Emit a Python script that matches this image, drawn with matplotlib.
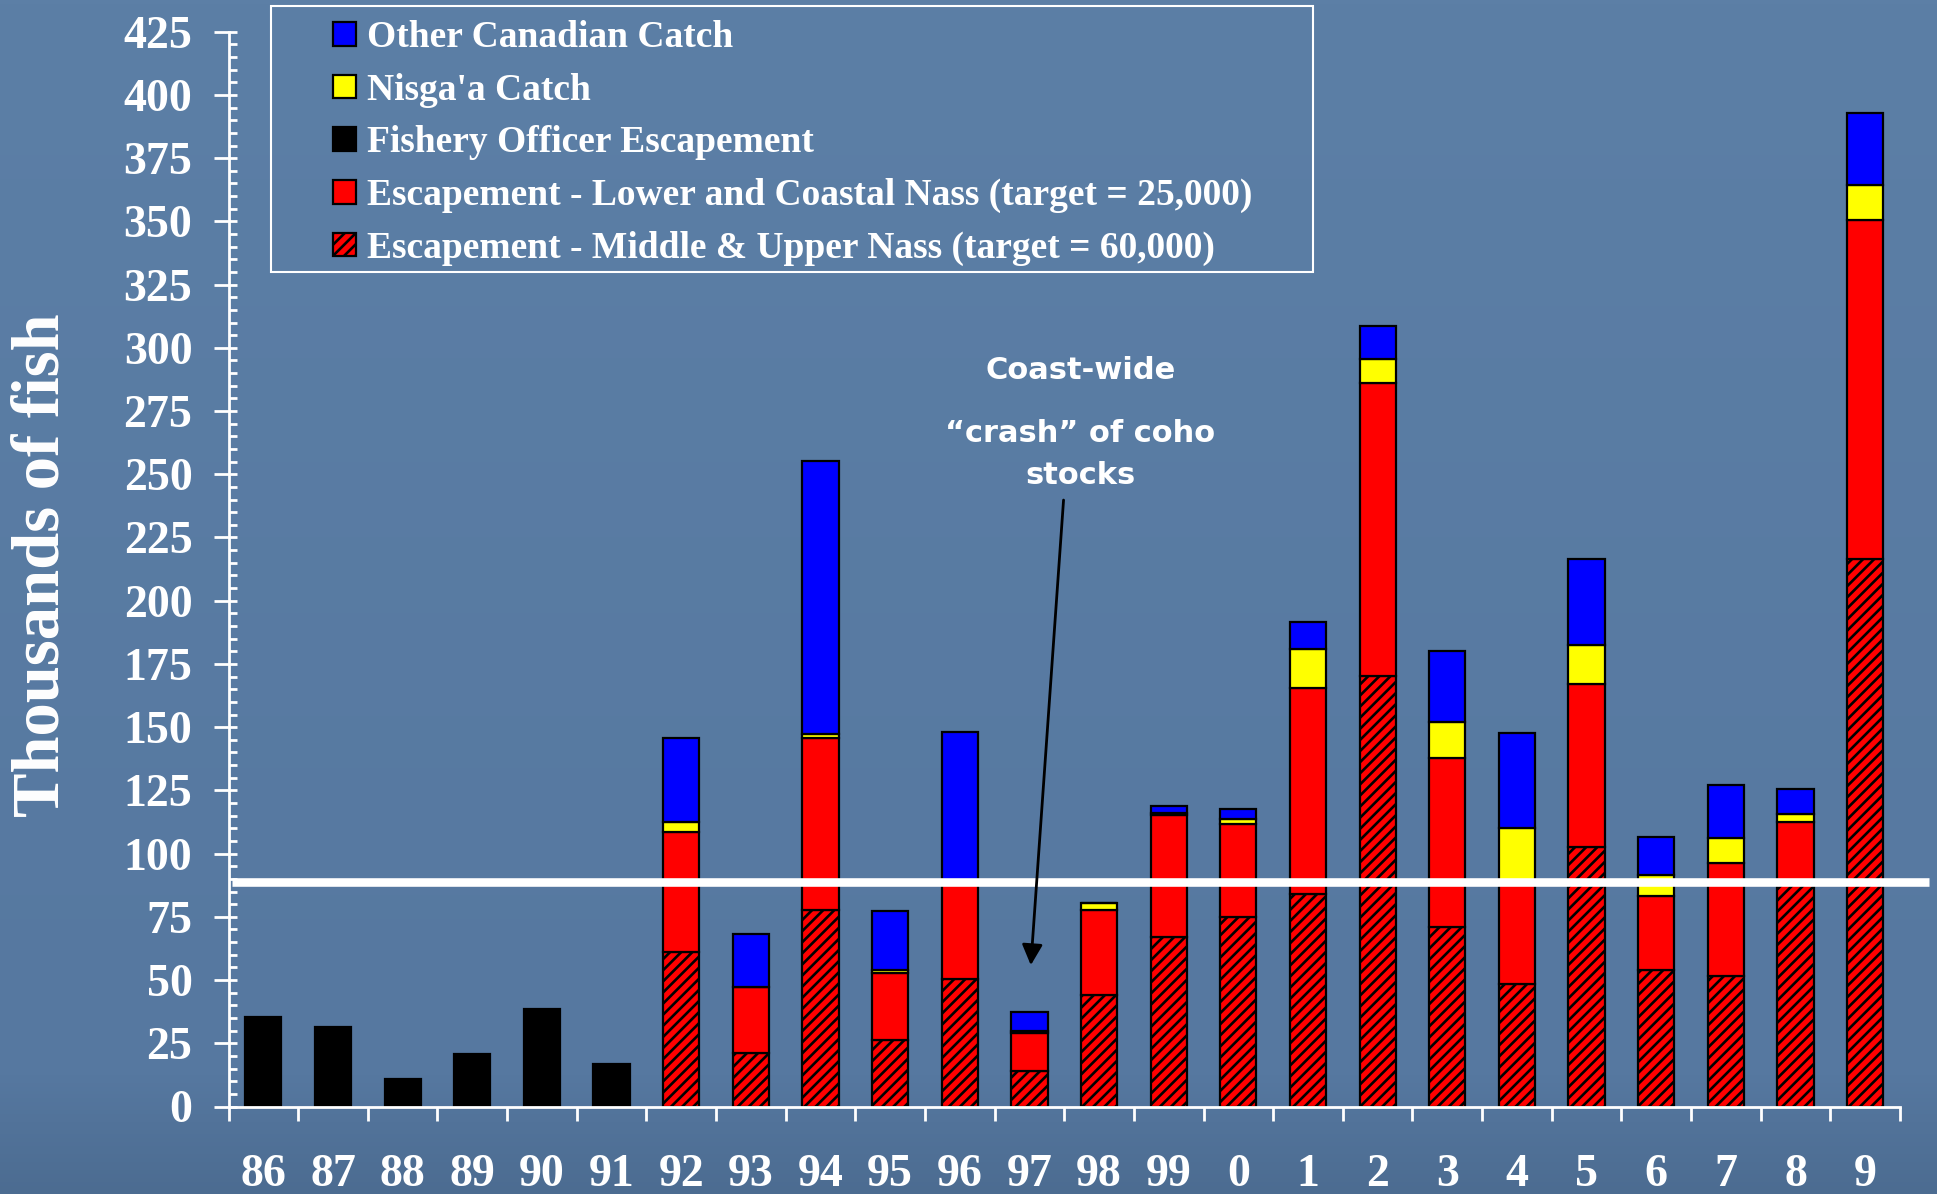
import numpy as np
import matplotlib
matplotlib.use("Agg")
import matplotlib.pyplot as plt
from matplotlib.patches import Patch, Rectangle
from matplotlib.ticker import MultipleLocator, FixedLocator

# ── data (thousands of fish) ──────────────────────────────────────────
years = ["86", "87", "88", "89", "90", "91", "92", "93", "94", "95", "96", "97",
         "98", "99", "0", "1", "2", "3", "4", "5", "6", "7", "8", "9"]

fishery_officer = [35.3, 31.4, 10.8, 20.6, 38.4, 16.8]          # 86-91
# 92 .. 9 (18 years)
middle_upper = [61.0, 21.3, 77.7, 26.3, 50.4, 14.2, 44.1, 67.1, 75.0,
                84.0, 170.1, 70.9, 48.4, 102.5, 54.0, 51.8, 89.0, 216.3]
lower_coastal = [47.7, 26.1, 68.0, 26.4, 39.0, 15.0, 33.6, 48.2, 36.7,
                 81.6, 116.1, 67.0, 40.6, 64.7, 29.3, 44.6, 23.6, 134.3]
nisgaa = [3.8, 0.0, 1.7, 1.3, 0.0, 0.8, 2.9, 0.8, 1.9,
          15.3, 9.2, 14.2, 21.1, 15.3, 8.4, 9.9, 2.9, 13.7]
other_canadian = [33.2, 20.7, 107.9, 23.3, 58.6, 7.2, 0.0, 2.7, 3.9,
                  10.6, 13.3, 27.9, 37.5, 33.8, 14.9, 21.0, 10.2, 28.4]

target_line = 88.6

legend_labels = [
    "Other Canadian Catch",
    "Nisga'a Catch",
    "Fishery Officer Escapement",
    "Escapement - Lower and Coastal Nass (target = 25,000)",
    "Escapement - Middle & Upper Nass (target = 60,000)",
]

# ── style ─────────────────────────────────────────────────────────────
SERIF = "Liberation Serif"
BLUE, YELLOW, RED = "#0000ff", "#ffff00", "#ff0000"
plt.rcParams["hatch.linewidth"] = 1.9
plt.rcParams["hatch.color"] = "black"

W, H = 1937, 1194
fig = plt.figure(figsize=(W / 100, H / 100), dpi=100)

# background gradient
bg = fig.add_axes([0, 0, 1, 1], zorder=-10)
top = np.array([92, 127, 166]) / 255
mid = np.array([86, 120, 160]) / 255
bot = np.array([76, 108, 145]) / 255
t = np.linspace(0, 1, 300)[:, None]
grad = np.where(t < 0.9, top + (mid - top) * (t / 0.9), mid + (bot - mid) * ((t - 0.9) / 0.1))
bg.imshow(grad[:, None, :], aspect="auto", extent=[0, 1, 0, 1])
bg.axis("off")

ax = fig.add_axes([228.5 / W, 87.5 / H, (1900 - 228.5) / W, (1106.5 - 31.7) / H])
ax.set_facecolor("none")

x = np.arange(len(years))
xf = x[:len(fishery_officer)]
xs = x[len(fishery_officer):]
bw = 0.52
edge = dict(edgecolor="black", linewidth=1.6)

ax.bar(xf, fishery_officer, bw, color="black", **edge)

mu = np.array(middle_upper)
lc = np.array(lower_coastal)
ni = np.array(nisgaa)
oc = np.array(other_canadian)
ax.bar(xs, mu, bw, color=RED, hatch="///", **edge)
ax.bar(xs, lc, bw, bottom=mu, color=RED, **edge)
ax.bar(xs, ni, bw, bottom=mu + lc, color=YELLOW, **edge)
ax.bar(xs, oc, bw, bottom=mu + lc + ni, color=BLUE, **edge)

# target line
ax.plot([-0.45, 23.92], [target_line, target_line], color="white", lw=6.2,
        solid_capstyle="butt", clip_on=False, zorder=5)

# axes
ax.set_xlim(-0.5, 23.5)
ax.set_ylim(0, 425)
for s in ["top", "right"]:
    ax.spines[s].set_visible(False)
for s in ["left", "bottom"]:
    ax.spines[s].set_color("white")
    ax.spines[s].set_linewidth(2)

ax.yaxis.set_major_locator(MultipleLocator(25))
ax.yaxis.set_minor_locator(MultipleLocator(5))
ax.yaxis.remove_overlapping_locs = False
ax.tick_params(axis="y", which="major", direction="out", length=11, width=2,
               color="white", pad=15, labelcolor="white", labelsize=33)
ax.tick_params(axis="y", which="minor", direction="in", length=6, width=2, color="white")

ax.set_xticks(x)
ax.set_xticklabels(years)
ax.xaxis.set_minor_locator(FixedLocator(np.arange(-0.5, 24, 1)))
ax.tick_params(axis="x", which="major", length=0, pad=34, labelcolor="white", labelsize=33)
ax.tick_params(axis="x", which="minor", direction="out", length=10, width=2, color="white")
for lbl in ax.get_xticklabels() + ax.get_yticklabels():
    lbl.set_fontfamily(SERIF)
    lbl.set_fontweight("bold")

fig.text(42 / W, 1 - 565 / H, "Thousands of fish", rotation=90, ha="center", va="center",
         color="white", fontsize=48, fontweight="bold", family=SERIF)

# annotation
note = dict(ha="center", va="center", color="white", fontsize=22, fontweight="bold",
            family="DejaVu Sans", zorder=6)
ax.text(11.73, 291.0, "Coast-wide", **note)
ax.text(11.73, 266.0, "\u201ccrash\u201d of coho", **note)
ax.text(11.73, 249.5, "stocks", **note)
ax.annotate("", xy=(11.02, 55.9), xytext=(11.49, 239.8),
            arrowprops=dict(arrowstyle="-|>,head_length=1.0,head_width=0.5",
                            mutation_scale=12.5, color="black", lw=2,
                            shrinkA=0, shrinkB=0), zorder=7)

# legend
handles = [
    Patch(facecolor=BLUE, **edge),
    Patch(facecolor=YELLOW, **edge),
    Patch(facecolor="black", **edge),
    Patch(facecolor=RED, **edge),
    Patch(facecolor=RED, hatch="///", **edge),
]
leg = fig.legend(handles, legend_labels, loc="upper left",
                 bbox_to_anchor=(333 / W, 1 - 20 / H), frameon=False,
                 borderpad=0, borderaxespad=0, handlelength=0.6, handleheight=0.6,
                 handletextpad=0.3, labelspacing=0.47,
                 prop=dict(family=SERIF, weight="bold", size=27))
for txt in leg.get_texts():
    txt.set_color("white")

fig.patches.append(Rectangle((271 / W, 1 - 271.7 / H), 1042 / W, 266 / H,
                             transform=fig.transFigure, fill=False,
                             edgecolor="white", linewidth=1.5))

fig.savefig("out.png", dpi=100)
